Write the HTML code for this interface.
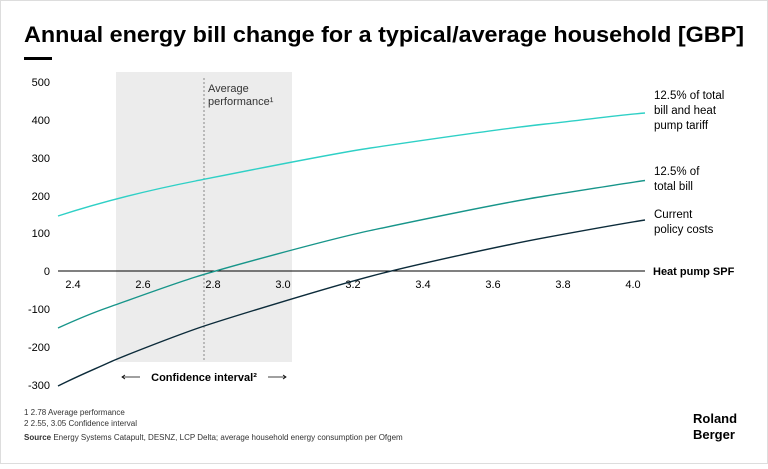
<!DOCTYPE html>
<html><head><meta charset="utf-8"><style>
body{margin:0;background:#fff;}
svg text{font-family:"Liberation Sans",sans-serif;}
</style></head><body>
<svg width="768" height="464" viewBox="0 0 768 464" xmlns="http://www.w3.org/2000/svg">
<rect x="0.5" y="0.5" width="767" height="463" fill="#fff" stroke="#ddd"/>
<text x="24" y="42" font-size="22" font-weight="bold" fill="#000" textLength="720" lengthAdjust="spacingAndGlyphs">Annual energy bill change for a typical/average household [GBP]</text>
<rect x="24" y="57" width="28" height="3" fill="#000"/>
<rect x="116" y="72" width="176" height="290" fill="#ececec"/>
<line x1="204" y1="78" x2="204" y2="362" stroke="#888" stroke-dasharray="2,2"/>
<text x="208" y="92" font-size="11" fill="#333">Average</text>
<text x="208" y="105" font-size="11" fill="#333">performance¹</text>
<text x="204" y="381" font-size="11" font-weight="bold" text-anchor="middle" fill="#000">Confidence interval²</text>
<line x1="122" y1="377" x2="140" y2="377" stroke="#000" stroke-width="0.8"/>
<polyline points="125,375 122,377 125,379" fill="none" stroke="#000" stroke-width="0.8"/>
<line x1="268" y1="377" x2="286" y2="377" stroke="#000" stroke-width="0.8"/>
<polyline points="283,375 286,377 283,379" fill="none" stroke="#000" stroke-width="0.8"/>
<g font-size="11" fill="#000" text-anchor="end">
<text x="50" y="86">500</text><text x="50" y="124">400</text><text x="50" y="162">300</text>
<text x="50" y="200">200</text><text x="50" y="237">100</text><text x="50" y="275">0</text>
<text x="50" y="313">-100</text><text x="50" y="351">-200</text><text x="50" y="389">-300</text>
</g>
<line x1="58" y1="271" x2="645" y2="271" stroke="#000" stroke-width="1"/>
<g font-size="11" fill="#000" text-anchor="middle">
<text x="73" y="288">2.4</text><text x="143" y="288">2.6</text><text x="213" y="288">2.8</text>
<text x="283" y="288">3.0</text><text x="353" y="288">3.2</text><text x="423" y="288">3.4</text>
<text x="493" y="288">3.6</text><text x="563" y="288">3.8</text><text x="633" y="288">4.0</text>
</g>
<text x="653" y="275" font-size="11" font-weight="bold" fill="#000">Heat pump SPF</text>
<path fill="none" stroke="#2fd0c6" stroke-width="1.4" d="M58,216 C120,196 170,186 195.5,181 S330,154 370.5,148 S500,129 545.5,124 S620,115 645,113"/>
<path fill="none" stroke="#17958a" stroke-width="1.4" d="M58,328 C80,318 95,312 108,307.5 S170,285 195.5,277 S330,239 370.5,230.5 S500,203 545.5,196 S620,184 645,180.5"/>
<path fill="none" stroke="#0c2b3a" stroke-width="1.4" d="M58,386 C80,375 95,369 108,363 S170,338 195.5,329 S330,287 370.5,276.3 S500,246 545.5,237.6 S620,224 645,220"/>
<g font-size="11.5" fill="#000">
<text x="654" y="99">12.5% of total</text><text x="654" y="114">bill and heat</text><text x="654" y="129">pump tariff</text>
<text x="654" y="175">12.5% of</text><text x="654" y="190">total bill</text>
<text x="654" y="218">Current</text><text x="654" y="233">policy costs</text>
</g>
<g font-size="8" fill="#333">
<text x="24" y="415">1  2.78 Average performance</text>
<text x="24" y="426">2  2.55, 3.05 Confidence interval</text>
<text x="24" y="440"><tspan font-weight="bold">Source</tspan> Energy Systems Catapult, DESNZ, LCP Delta; average household energy consumption per Ofgem</text>
</g>
<text x="693" y="423" font-size="13" font-weight="bold" fill="#000">Roland</text>
<text x="693" y="439" font-size="13" font-weight="bold" fill="#000">Berger</text>
</svg>
</body></html>
